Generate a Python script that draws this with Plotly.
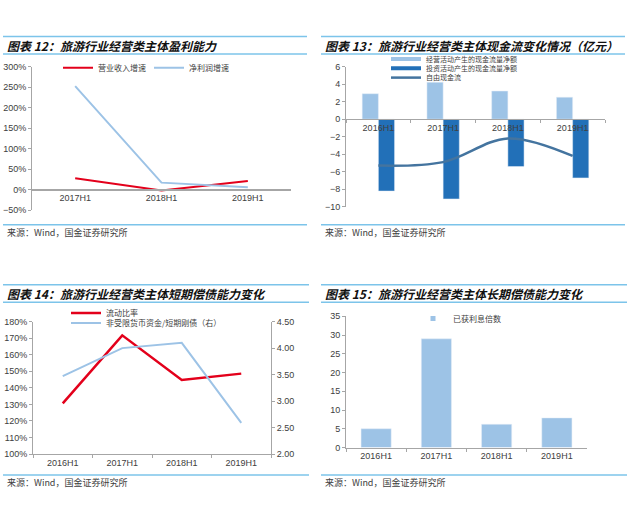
import plotly.graph_objects as go

W, H = 636, 532

# ---------------- data ----------------
cats_p1 = ["2017H1", "2018H1", "2019H1"]
revenue_growth = [0.28, -0.02, 0.21]
profit_growth = [2.53, 0.17, 0.06]

cats = ["2016H1", "2017H1", "2018H1", "2019H1"]
operating_cf = [2.9, 4.2, 3.2, 2.5]
investing_cf = [-8.2, -9.1, -5.4, -6.7]
free_cf = [-5.3, -4.9, -2.2, -4.2]

current_ratio = [1.306, 1.717, 1.448, 1.486]
cash_to_short_debt = [3.47, 4.00, 4.10, 2.59]

interest_coverage = [5.0, 29.0, 6.2, 7.9]

titles = [
    "图表 12：旅游行业经营类主体盈利能力",
    "图表 13：旅游行业经营类主体现金流变化情况（亿元）",
    "图表 14：旅游行业经营类主体短期偿债能力变化",
    "图表 15：旅游行业经营类主体长期偿债能力变化",
]
source_text = "来源：Wind，国金证券研究所"

# ---------------- styles ----------------
RED = "#E3001B"
LBLUE = "#9DC3E6"
DBLUE = "#2270B8"
SBLUE = "#44749F"
AXIS = "#A6A6A6"
TXT = "#404040"
RULE = "#7CC4EA"
NUM_FONT = dict(family="Liberation Sans, Arial", size=9, color=TXT)
CJK = "Noto Sans CJK SC"
LEG_FONT = dict(family=CJK, size=8, color=TXT)


def px_x(p):
    return p / W


def px_y(p):
    return 1 - p / H


def ydom(bottom_px, top_px):
    return [px_y(bottom_px), px_y(top_px)]


fig = go.Figure()

# ---- panel 1 ----
fig.add_trace(go.Scatter(x=cats_p1, y=revenue_growth, mode="lines", name="营业收入增速",
                         line=dict(color=RED, width=2), xaxis="x", yaxis="y", legend="legend"))
fig.add_trace(go.Scatter(x=cats_p1, y=profit_growth, mode="lines", name="净利润增速",
                         line=dict(color=LBLUE, width=2), xaxis="x", yaxis="y", legend="legend2"))

# ---- panel 2 ----
fig.add_trace(go.Bar(x=cats, y=operating_cf, name="经营活动产生的现金流量净额", marker_color=LBLUE,
                     xaxis="x2", yaxis="y2", showlegend=False, offsetgroup="a"))
fig.add_trace(go.Bar(x=cats, y=investing_cf, name="投资活动产生的现金流量净额", marker_color=DBLUE,
                     xaxis="x2", yaxis="y2", showlegend=False, offsetgroup="b"))
fig.add_trace(go.Scatter(x=cats, y=free_cf, mode="lines", name="自由现金流",
                         line=dict(color=SBLUE, width=2.5, shape="spline", smoothing=1),
                         xaxis="x2", yaxis="y2", showlegend=False))
# legend entries
fig.add_trace(go.Scatter(x=[None], y=[None], mode="lines", name="经营活动产生的现金流量净额",
                         line=dict(color=LBLUE, width=4), xaxis="x2", yaxis="y2", legend="legend3"))
fig.add_trace(go.Scatter(x=[None], y=[None], mode="lines", name="投资活动产生的现金流量净额",
                         line=dict(color=DBLUE, width=4), xaxis="x2", yaxis="y2", legend="legend4"))
fig.add_trace(go.Scatter(x=[None], y=[None], mode="lines", name="自由现金流",
                         line=dict(color=SBLUE, width=2.5), xaxis="x2", yaxis="y2", legend="legend5"))

# ---- panel 3 ----
fig.add_trace(go.Scatter(x=cats, y=current_ratio, mode="lines", name="流动比率",
                         line=dict(color=RED, width=2.5), xaxis="x3", yaxis="y3", legend="legend6"))
fig.add_trace(go.Scatter(x=cats, y=cash_to_short_debt, mode="lines", name="非受限货币资金/短期刚债（右）",
                         line=dict(color=LBLUE, width=2), xaxis="x3", yaxis="y5", legend="legend7"))

# ---- panel 4 ----
fig.add_trace(go.Bar(x=cats, y=interest_coverage, name="已获利息倍数", marker_color=LBLUE,
                     xaxis="x4", yaxis="y4", showlegend=False))
fig.add_trace(go.Scatter(x=[None], y=[None], mode="markers", name="已获利息倍数",
                         marker=dict(color=LBLUE, symbol="square", size=5),
                         xaxis="x4", yaxis="y4", legend="legend8"))

# ---------------- axes ----------------
d1 = ydom(209, 63)
d2 = ydom(205.7, 62.7)
d3 = ydom(457.7, 322.7)
d4 = ydom(451, 317.3)

common_y = dict(showgrid=False, zeroline=False, showline=True, linecolor=AXIS, linewidth=1,
                ticks="outside", ticklen=3, tickcolor=AXIS, tickfont=NUM_FONT)
common_x = dict(showgrid=False, zeroline=False, showline=True, linecolor=AXIS, linewidth=1,
                tickfont=NUM_FONT, type="category", fixedrange=True)

layout = dict(
    width=W, height=H, margin=dict(l=0, r=0, t=0, b=0),
    paper_bgcolor="white", plot_bgcolor="white",
    barmode="group", bargap=0.5, bargroupgap=0,
    xaxis=dict(common_x, domain=[px_x(32), px_x(291)], anchor="free",
               position=d1[0] + (d1[1] - d1[0]) * (0.5 / 3.5), range=[-0.5, 2.5],
               linewidth=2, ticks=""),
    yaxis=dict(common_y, domain=d1, range=[-0.5, 3.0], dtick=0.5, tickformat=".0%",
               anchor="x", position=px_x(32)),
    xaxis2=dict(common_x, domain=[px_x(346), px_x(605)], anchor="free",
                position=d2[0] + (d2[1] - d2[0]) * (10 / 16), range=[-0.5, 3.5],
                ticks="outside", ticklen=3, tickcolor=AXIS, tickson="boundaries"),
    yaxis2=dict(common_y, domain=d2, range=[-10, 6], dtick=2, anchor="x2"),
    xaxis3=dict(common_x, domain=[px_x(33), px_x(271)], anchor="y3", range=[-0.5, 3.5],
                ticks="outside", ticklen=3, tickcolor=AXIS, tickson="boundaries"),
    yaxis3=dict(common_y, domain=d3, range=[1.0, 1.8], dtick=0.1, tickformat=".0%", anchor="x3"),
    yaxis5=dict(common_y, domain=d3, range=[2.0, 4.5], dtick=0.5, tickformat=".2f",
                anchor="x3", overlaying="y3", side="right"),
    xaxis4=dict(common_x, domain=[px_x(346), px_x(587)], anchor="y4", range=[-0.5, 3.5],
                ticks="outside", ticklen=3, tickcolor=AXIS, tickson="boundaries"),
    yaxis4=dict(common_y, domain=d4, range=[0, 35], dtick=5, anchor="x4"),
)


def leg(text_x_px, center_y_px, size=8):
    # legend box placed so the entry text starts near text_x_px
    return dict(x=px_x(text_x_px - 40), y=px_y(center_y_px), xanchor="left", yanchor="middle",
                font=dict(LEG_FONT, size=size), bgcolor="rgba(0,0,0,0)", borderwidth=0, itemwidth=30)


layout["legend"] = leg(98, 64)
layout["legend2"] = leg(189, 64)
layout["legend3"] = leg(426, 55, 7)
layout["legend4"] = leg(426, 64.5, 7)
layout["legend5"] = leg(426, 74, 7)
layout["legend6"] = leg(106, 314)
layout["legend7"] = leg(106, 324)
layout["legend8"] = leg(453, 319.5)

fig.update_layout(**layout)

# ---------------- decoration: rules, titles, sources ----------------
panels = [
    dict(x0=3, x1=307, top=32, mid=50, src=224, title_y=41, src_y=232, tx=5),
    dict(x0=321, x1=625, top=32, mid=50, src=224, title_y=41, src_y=232, tx=323),
    dict(x0=3, x1=309, top=285, mid=303, src=479, title_y=294, src_y=487, tx=5),
    dict(x0=321, x1=627, top=285, mid=303, src=479, title_y=294, src_y=487, tx=323),
]
shapes = []
annotations = []
for p, t in zip(panels, titles):
    for yy in (p["top"], p["mid"], p["src"]):
        shapes.append(dict(type="line", xref="paper", yref="paper",
                           x0=px_x(p["x0"]), x1=px_x(p["x1"]), y0=px_y(yy), y1=px_y(yy),
                           line=dict(color=RULE, width=1.5)))
    annotations.append(dict(text="<b>" + t + "</b>", xref="paper", yref="paper",
                            x=px_x(p["tx"]), y=px_y(p["title_y"]), xanchor="left", yanchor="middle",
                            showarrow=False,
                            font=dict(family=CJK, size=12, color="#111111", style="italic")))
    annotations.append(dict(text=source_text, xref="paper", yref="paper",
                            x=px_x(p["tx"]), y=px_y(p["src_y"]), xanchor="left", yanchor="middle",
                            showarrow=False, font=dict(family=CJK, size=9, color=TXT)))

fig.update_layout(shapes=shapes, annotations=annotations)

fig.write_html("out.html", config={"displayModeBar": False},
               post_script="document.body.style.margin='0px';document.body.style.overflow='hidden';")
